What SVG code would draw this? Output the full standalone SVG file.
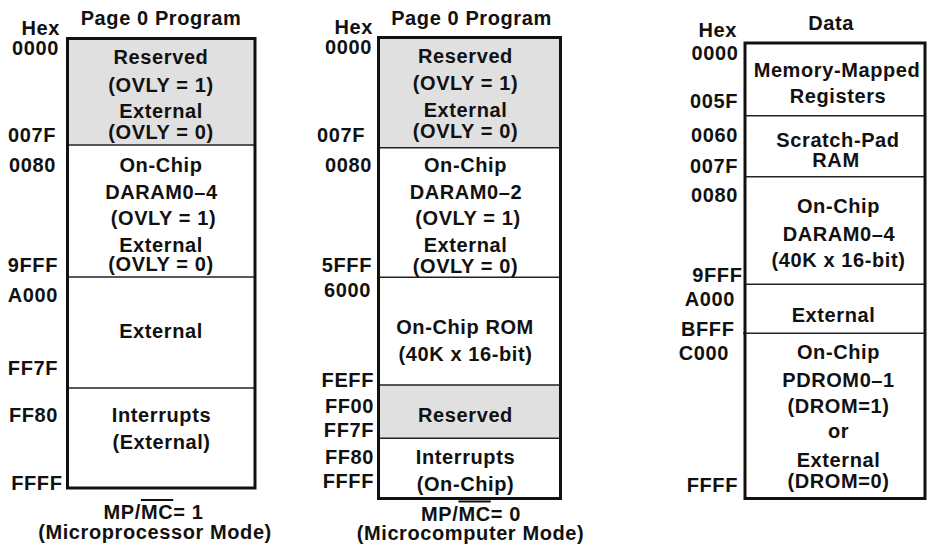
<svg xmlns="http://www.w3.org/2000/svg" width="927" height="550" viewBox="0 0 927 550">
<style>
text{font-family:"Liberation Sans",Arial,Helvetica,sans-serif;font-weight:bold;font-size:20px;letter-spacing:0.6px;fill:#111}
.c{text-anchor:middle}
.e{text-anchor:end}
.box{fill:none;stroke:#111;stroke-width:3}
.div{stroke:#222;stroke-width:1.4}
.gray{fill:#e0e0e0}
</style>
<rect width="927" height="550" fill="#fff"/>

<g id="map-program-mp1">
<rect class="gray" x="67.5" y="38.5" width="187.5" height="106.5"/>
<line class="div" x1="66" y1="145" x2="255" y2="145"/>
<line class="div" x1="67.5" y1="277" x2="255" y2="277"/>
<line class="div" x1="66" y1="388" x2="255" y2="388"/>
<rect class="box" x="67.5" y="38.5" width="187.5" height="449.5"/>
<text class="c" x="161" y="25">Page 0 Program</text>
<text class="e" x="60" y="35">Hex</text>
<text class="e" x="59" y="55">0000</text>
<text class="e" x="56" y="142">007F</text>
<text class="e" x="56" y="172">0080</text>
<text class="e" x="58" y="272">9FFF</text>
<text class="e" x="58" y="302">A000</text>
<text class="e" x="58" y="375">FF7F</text>
<text class="e" x="58" y="422">FF80</text>
<text class="e" x="62.5" y="490">FFFF</text>
<text class="c" x="161" y="64">Reserved</text>
<text class="c" x="161" y="92">(OVLY = 1)</text>
<text class="c" x="161" y="118">External</text>
<text class="c" x="161" y="139">(OVLY = 0)</text>
<text class="c" x="161" y="172">On-Chip</text>
<text class="c" x="161.5" y="199">DARAM0–4</text>
<text class="c" x="163.5" y="225">(OVLY = 1)</text>
<text class="c" x="161" y="252">External</text>
<text class="c" x="161" y="271">(OVLY = 0)</text>
<text class="c" x="161" y="338">External</text>
<text class="c" x="161.5" y="422">Interrupts</text>
<text class="c" x="161.5" y="449">(External)</text>
<text class="c" x="153.5" y="519">MP/<tspan text-decoration="overline">MC</tspan>= 1</text>
<text class="c" x="155" y="539">(Microprocessor Mode)</text>
</g>

<g id="map-program-mp0">
<rect class="gray" x="378.5" y="37.5" width="182" height="110"/>
<rect class="gray" x="378.5" y="385" width="182" height="53.3"/>
<line class="div" x1="378.5" y1="147.7" x2="560.5" y2="147.7"/>
<line class="div" x1="378.5" y1="277.3" x2="560.5" y2="277.3"/>
<line class="div" x1="378.5" y1="385" x2="560.5" y2="385"/>
<line class="div" x1="378.5" y1="438.3" x2="560.5" y2="438.3"/>
<rect class="box" x="378.5" y="37.5" width="182" height="461"/>
<text class="c" x="471.5" y="25">Page 0 Program</text>
<text class="e" x="373" y="34">Hex</text>
<text class="e" x="372" y="54">0000</text>
<text class="e" x="365" y="142">007F</text>
<text class="e" x="372" y="172">0080</text>
<text class="e" x="372" y="272">5FFF</text>
<text class="e" x="371" y="297">6000</text>
<text class="e" x="374" y="387">FEFF</text>
<text class="e" x="374" y="413">FF00</text>
<text class="e" x="374" y="437">FF7F</text>
<text class="e" x="374" y="464">FF80</text>
<text class="e" x="374" y="488">FFFF</text>
<text class="c" x="465.5" y="63">Reserved</text>
<text class="c" x="465.5" y="90">(OVLY = 1)</text>
<text class="c" x="465.5" y="117">External</text>
<text class="c" x="465.5" y="138">(OVLY = 0)</text>
<text class="c" x="465.5" y="172">On-Chip</text>
<text class="c" x="466" y="199">DARAM0–2</text>
<text class="c" x="468" y="225">(OVLY = 1)</text>
<text class="c" x="465.5" y="252">External</text>
<text class="c" x="465.5" y="273">(OVLY = 0)</text>
<text class="c" x="465" y="334">On-Chip ROM</text>
<text class="c" x="465.5" y="361">(40K x 16-bit)</text>
<text class="c" x="465.5" y="422">Reserved</text>
<text class="c" x="465.5" y="464">Interrupts</text>
<text class="c" x="465.5" y="491">(On-Chip)</text>
<text class="c" x="471" y="520.5">MP/<tspan text-decoration="overline">MC</tspan>= 0</text>
<text class="c" x="470.5" y="539.5">(Microcomputer Mode)</text>
</g>

<g id="map-data">
<line class="div" x1="745" y1="115.7" x2="925" y2="115.7"/>
<line class="div" x1="745" y1="176.7" x2="925" y2="176.7"/>
<line class="div" x1="745" y1="284.3" x2="925" y2="284.3"/>
<line class="div" x1="743" y1="333.3" x2="925" y2="333.3"/>
<rect class="box" x="745" y="43" width="180" height="455.5"/>
<text class="c" x="831" y="30">Data</text>
<text class="e" x="737" y="37">Hex</text>
<text class="e" x="738.5" y="60">0000</text>
<text class="e" x="738" y="108">005F</text>
<text class="e" x="738" y="142">0060</text>
<text class="e" x="738" y="173">007F</text>
<text class="e" x="738" y="202">0080</text>
<text class="e" x="742.5" y="282">9FFF</text>
<text class="e" x="735" y="306">A000</text>
<text class="e" x="734.5" y="336">BFFF</text>
<text class="e" x="729" y="360">C000</text>
<text class="e" x="738" y="492">FFFF</text>
<text class="c" x="837" y="77">Memory-Mapped</text>
<text class="c" x="838" y="103">Registers</text>
<text class="c" x="838" y="147">Scratch-Pad</text>
<text class="c" x="836" y="167">RAM</text>
<text class="c" x="838.5" y="213">On-Chip</text>
<text class="c" x="839" y="241">DARAM0–4</text>
<text class="c" x="838.5" y="267">(40K x 16-bit)</text>
<text class="c" x="833.5" y="322">External</text>
<text class="c" x="838.5" y="359">On-Chip</text>
<text class="c" x="838.5" y="387">PDROM0–1</text>
<text class="c" x="838.5" y="413">(DROM=1)</text>
<text class="c" x="838.5" y="438">or</text>
<text class="c" x="838.5" y="467">External</text>
<text class="c" x="838.5" y="488">(DROM=0)</text>
</g>

<g id="connectors"></g>
</svg>
